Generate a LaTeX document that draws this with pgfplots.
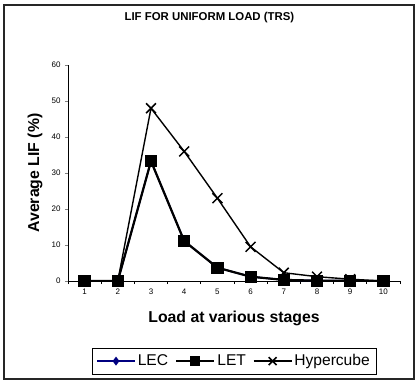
\documentclass[border=0pt]{standalone}
\usepackage{pgfplots}
\pgfplotsset{compat=1.18}
\usepackage{fontspec}
\setmainfont{Liberation Sans}
\definecolor{lecnavy}{RGB}{0,0,128}
\begin{document}
\begin{tikzpicture}
\useasboundingbox (-68bp,-101bp) rectangle (351bp,281bp);
\fill[white] (-68bp,-101bp) rectangle (351bp,281bp);
\draw[line width=1.2bp, black!85] (-64bp,-98bp) rectangle (346bp,276bp);
\begin{axis}[
  at={(0,0)}, anchor=origin,
  scale only axis,
  width=332bp, height=216bp,
  xmin=0.5, xmax=10.5,
  ymin=0, ymax=60,
  axis lines*=left,
  axis line style={line width=0.8bp},
  xtick={1,...,10},
  minor xtick={0.5,1.5,...,10.5},
  ytick={0,10,...,60},
  tick align=outside,
  tick pos=left,
  major tick length=3bp,
  minor tick length=3bp,
  x tick style={draw=none},
  minor x tick style={draw=black, line width=0.8bp},
  y tick style={line width=0.8bp},
  every tick label/.append style={font=\fontsize{8bp}{9bp}\selectfont},
  /pgf/number format/assume math mode=true,
  xticklabel style={yshift=-1bp},
  yticklabel style={xshift=-1bp},
  title={LIF FOR UNIFORM LOAD (TRS)},
  title style={font=\bfseries\fontsize{11.4bp}{13bp}\selectfont, at={(axis description cs:0.426,1)}, anchor=center, yshift=41.5bp},
  xlabel={Load at various stages},
  xlabel style={font=\bfseries\fontsize{15.8bp}{18bp}\selectfont, at={(axis description cs:0.5,0)}, anchor=center, yshift=-37bp},
  ylabel={Average LIF (\%)},
  ylabel style={font=\bfseries\fontsize{15.8bp}{18bp}\selectfont, at={(axis description cs:-0.0994,0.5)}, anchor=center},
  legend columns=3,
  legend style={at={(axis description cs:0.5,0)}, anchor=north, yshift=-67bp,
    draw=black, font=\fontsize{15.6bp}{17bp}\selectfont,
    inner xsep=4bp, inner ysep=4.5bp,
    /tikz/every even column/.append style={column sep=5bp}},
  legend image code/.code={\draw[#1] (0bp,0bp) -- (38bp,0bp); \draw[#1, mark size=0.8*\pgfplotmarksize] plot coordinates {(19bp,0bp)};},
]
\addplot[color=lecnavy, line width=1.6bp, mark=diamond*, mark size=4bp, mark options={solid,fill=lecnavy}]
  coordinates {(1,0) (2,0) (3,33.3) (4,11.1) (5,3.7) (6,1.2) (7,0.3) (8,0.1) (9,0.05) (10,0)};
\addlegendentry{LEC}
\addplot[color=black, line width=2.2bp, mark=square*, mark size=5bp, mark options={solid,fill=black}]
  coordinates {(1,0) (2,0) (3,33.3) (4,11.1) (5,3.7) (6,1.2) (7,0.3) (8,0.1) (9,0.05) (10,0)};
\addlegendentry{LET}
\addplot[color=black, line width=1.4bp, mark=x, mark size=7bp, mark options={solid, line width=1.5bp}]
  coordinates {(1,0) (2,0) (3,48) (4,36) (5,23) (6,9.5) (7,2.3) (8,1.2) (9,0.5) (10,0)};
\addlegendentry{Hypercube}
\end{axis}
\end{tikzpicture}
\end{document}
